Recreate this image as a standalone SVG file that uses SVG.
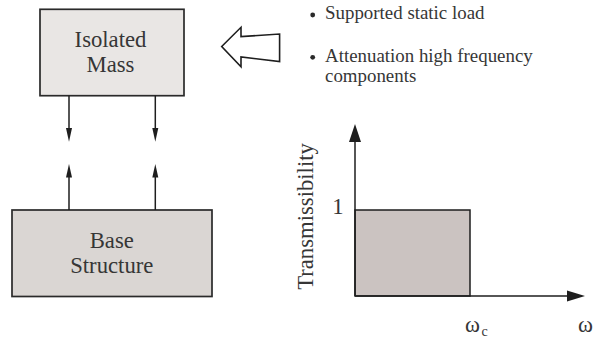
<svg xmlns="http://www.w3.org/2000/svg" width="596" height="342" viewBox="0 0 596 342">
<style>
.ln{stroke:#1e1e1e;stroke-width:1.5;fill:none}
.hd{fill:#1e1e1e}
.box{stroke:#2a2a2a;stroke-width:1.7}
</style>
<rect width="596" height="342" fill="#ffffff"/>
<g id="isolated-mass" font-family="'Liberation Serif', 'Times New Roman', 'DejaVu Serif', serif" font-size="22.7" fill="#363636">
<rect class="box" x="40" y="9.3" width="144" height="86.4" fill="#e9e6e4"/>
<text x="110.5" y="46.7" text-anchor="middle" style="font-family:'Liberation Serif',serif">Isolated</text>
<text x="110.5" y="71.7" text-anchor="middle" style="font-family:'Liberation Serif',serif">Mass</text>
</g>
<g id="base-structure" font-family="'Liberation Serif', 'Times New Roman', 'DejaVu Serif', serif" font-size="22.7" fill="#363636">
<rect class="box" x="12" y="210" width="200" height="86.5" fill="#dad6d3"/>
<text x="111.8" y="248.3" text-anchor="middle" style="font-family:'Liberation Serif',serif">Base</text>
<text x="111.8" y="273.3" text-anchor="middle" style="font-family:'Liberation Serif',serif">Structure</text>
</g>
<g id="connectors">
<line class="ln" x1="69" y1="95.7" x2="69" y2="131"/>
<polygon class="hd" points="69,141.7 66,128 72,128"/>
<line class="ln" x1="155.3" y1="95.7" x2="155.3" y2="131"/>
<polygon class="hd" points="155.3,141.7 152.3,128 158.3,128"/>
<line class="ln" x1="69" y1="210" x2="69" y2="175"/>
<polygon class="hd" points="69,164 66,177.5 72,177.5"/>
<line class="ln" x1="155.3" y1="210" x2="155.3" y2="175"/>
<polygon class="hd" points="155.3,164 152.3,177.5 158.3,177.5"/>
</g>
<g id="hollow-arrow">
<polygon points="221.7,46.5 241,27.3 241,36.6 279.6,34 279.6,61.6 241,57 241,66.8" fill="#ffffff" stroke="#1e1e1e" stroke-width="1.6" stroke-linejoin="miter"/>
</g>
<g id="bullets" font-family="'Liberation Serif', 'Times New Roman', serif" font-size="18.9" fill="#363636">
<circle cx="312.7" cy="15" r="2.4" fill="#2a2a2a"/>
<text x="325" y="19" style="font-family:'Liberation Serif',serif">Supported static load</text>
<circle cx="312.7" cy="57.3" r="2.4" fill="#2a2a2a"/>
<text x="325" y="62" style="font-family:'Liberation Serif',serif">Attenuation high frequency</text>
<text x="325" y="81.5" style="font-family:'Liberation Serif',serif">components</text>
</g>
<g id="graph" font-family="'Liberation Serif', 'Times New Roman', serif" font-size="22.7" fill="#363636">
<rect x="355" y="210" width="115" height="86" fill="#cbc3c1" stroke="#1e1e1e" stroke-width="1.5"/>
<line class="ln" x1="355" y1="296" x2="355" y2="138"/>
<polygon class="hd" points="355,124 349,142 361,142"/>
<line class="ln" x1="355" y1="296" x2="570" y2="296"/>
<polygon class="hd" points="585,296 567,290.5 567,301.5"/>
<text x="338" y="214.3" text-anchor="middle" style="font-family:'Liberation Serif',serif">1</text>
<text transform="translate(312.5,216.5) rotate(-90)" text-anchor="middle" style="font-family:'Liberation Serif',serif">Transmissibility</text>
<text x="465" y="331.7" style="font-family:'Liberation Serif',serif">ω</text>
<text x="481.5" y="335.5" font-size="14" style="font-family:'Liberation Serif',serif">c</text>
<text x="578" y="331.7" style="font-family:'Liberation Serif',serif">ω</text>
</g>
</svg>
